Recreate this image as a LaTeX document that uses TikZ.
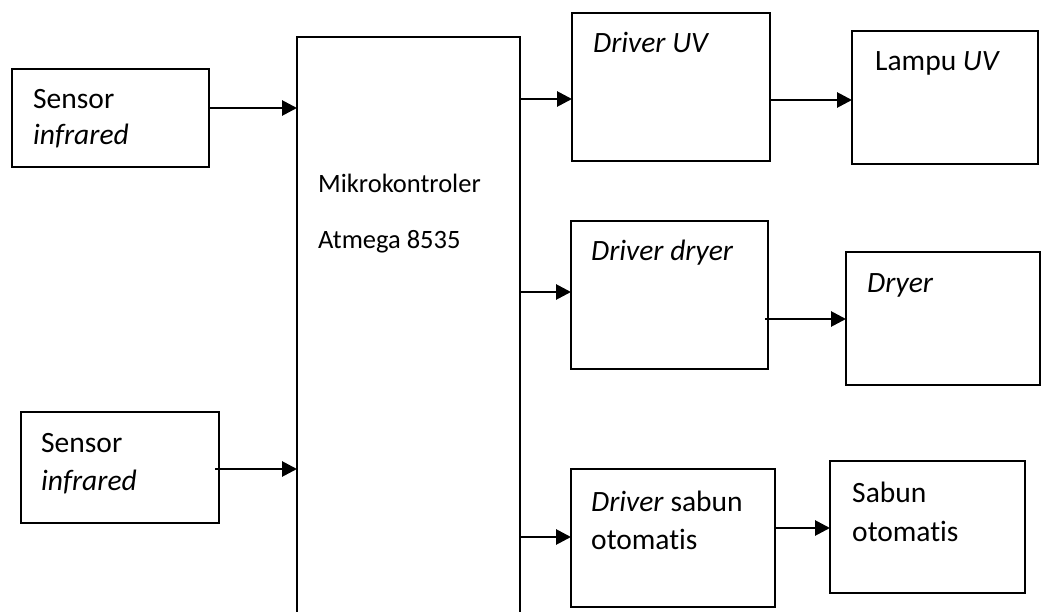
\documentclass[tikz,border=0pt]{standalone}
\usepackage{fontspec}
\setmainfont{Carlito}[Ligatures=NoCommon]
\usetikzlibrary{arrows.meta}
\tikzset{
  box/.style={draw, line width=1.6pt, rectangle, inner sep=0pt, outer sep=0pt, anchor=north west},
  txt/.style={inner sep=0pt, anchor=base west, font=\fontsize{29.5}{35}\selectfont},
  smalltxt/.style={inner sep=0pt, anchor=base west, font=\fontsize{26.5}{31}\selectfont},
  arr/.style={line width=2.8pt, -{Triangle[length=15pt,width=15pt]}}
}
\begin{document}
\begin{tikzpicture}[x=1pt,y=-1pt]
\useasboundingbox (0,0) rectangle (1041,612);
\clip (0,0) rectangle (1041,612);
\fill[white] (0,0) rectangle (1041,612);
% boxes
\node[box, minimum width=197pt, minimum height=98pt] (s1) at (12,69) {};
\node[box, minimum width=198pt, minimum height=111pt] (s2) at (21,412) {};
\node[box, minimum width=223pt, minimum height=640pt] (mikro) at (297,37) {};
\node[box, minimum width=198pt, minimum height=148pt] (drvuv) at (572,13) {};
\node[box, minimum width=186pt, minimum height=133pt] (lampu) at (852,31) {};
\node[box, minimum width=197pt, minimum height=148pt] (drvdry) at (571,221) {};
\node[box, minimum width=194pt, minimum height=133pt] (dryer) at (846,252) {};
\node[box, minimum width=204pt, minimum height=138pt] (drvsab) at (571,469) {};
\node[box, minimum width=195pt, minimum height=132pt] (sabun) at (830,461) {};
% texts
\node[txt] (t1a) at (33,109) {Sensor};
\node[txt] (t1b) at (33,145) {\textit{infrared}};
\node[txt] (t2a) at (41,452) {Sensor};
\node[txt] (t2b) at (41,490) {\textit{infrared}};
\node[smalltxt] (tm1) at (318,193) {Mikrokontroler};
\node[smalltxt] (tm2) at (318,249) {Atmega 8535};
\node[txt] (tuv) at (593,53) {\textit{Driver UV}};
\node[txt] (tlu) at (875,71) {Lampu \textit{UV}};
\node[txt] (tdd) at (591,261) {\textit{Driver dryer}};
\node[txt] (tdr) at (867,292) {\textit{Dryer}};
\node[txt] (tds1) at (591,511) {\textit{Driver} sabun};
\node[txt] (tds2) at (591,549) {otomatis};
\node[txt] (tsb1) at (852,502) {Sabun};
\node[txt] (tsb2) at (852,541) {otomatis};
% connectors
\draw[arr] (s1.east |- 0,108) -- (mikro.west |- 0,108);
\draw[arr] ([xshift=-4pt]s2.east |- 0,469) -- (mikro.west |- 0,469);
\draw[arr] (mikro.east |- 0,99) -- (drvuv.west |- 0,99);
\draw[arr] (drvuv.east |- 0,100) -- (lampu.west |- 0,100);
\draw[arr] (mikro.east |- 0,292) -- (drvdry.west |- 0,292);
\draw[arr] ([xshift=-3pt]drvdry.east |- 0,319) -- (dryer.west |- 0,319);
\draw[arr] (mikro.east |- 0,537) -- (drvsab.west |- 0,537);
\draw[arr] (drvsab.east |- 0,528) -- (sabun.west |- 0,528);
\end{tikzpicture}
\end{document}
